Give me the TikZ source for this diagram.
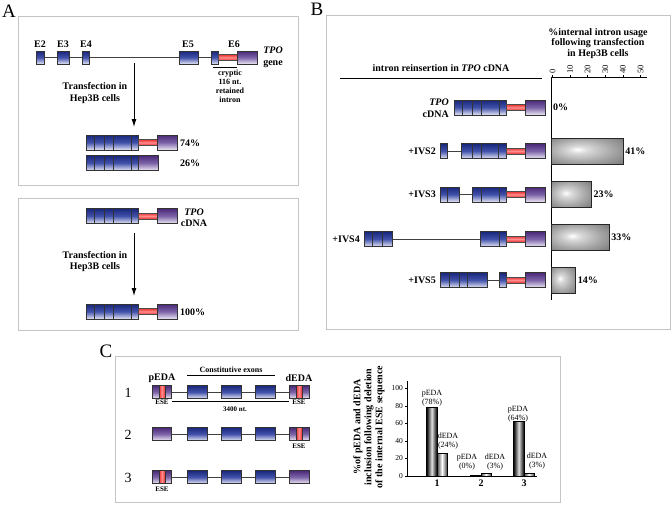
\documentclass[tikz,border=0pt]{standalone}
\usepackage{fontspec}
\setmainfont{Liberation Serif}
\usepackage{xcolor}
\usetikzlibrary{arrows.meta}

\definecolor{exonblue}{HTML}{18267A}
\definecolor{exonbluemid}{HTML}{4252AA}
\definecolor{exonbluelt}{HTML}{E4E6F5}
\definecolor{exonpurple}{HTML}{4A2878}
\definecolor{exonpurplemid}{HTML}{7C64A8}
\definecolor{exonpurplelt}{HTML}{EEE8F4}
\definecolor{intronred}{HTML}{E8302F}
\definecolor{intronpink}{HTML}{FF8C8C}
\definecolor{framegray}{HTML}{C4C4C4}

\pgfdeclareradialshading{barglow}{\pgfpoint{-7bp}{3bp}}{color(0bp)=(white); color(7bp)=(gray!30); color(22bp)=(gray!70); color(50bp)=(gray!65!black)}

% exon pieces: half height is \hh, set per row
\newcommand{\exbox}[4]{\draw[#4] (#1,#3-\hh) rectangle (#2,#3+\hh);}
\newcommand{\exdiv}[2]{\draw[divline] (#1,#2-\hh) -- (#1,#2+\hh);}
\newcommand{\redbar}[3]{\draw[redband] (#1,#3-3) rectangle (#2,#3+3);}
\newcommand{\tpoend}[2]{\redbar{#1}{#1+19}{#2}\exbox{#1+19}{#1+39}{#2}{expurple}}
\newcommand{\tpoblue}[2]{\exbox{#1}{#1+52}{#2}{exblue}\foreach \d in {8,18,27,45}{\exdiv{#1+\d}{#2}}}
\newcommand{\tpocdna}[2]{\tpoblue{#1}{#2}\tpoend{#1+52}{#2}}
\newcommand{\tpomrna}[2]{\tpoblue{#1}{#2}\exbox{#1+52}{#1+72}{#2}{expurple}}
\newcommand{\esebox}[5]{\exbox{#1}{#2}{#5}{expurple}\draw[eseband] (#3,#5-\hh) rectangle (#4,#5+\hh);}

\begin{document}
\begin{tikzpicture}[x=1pt,y=-1pt,
  frame/.style={draw=framegray, line width=0.7pt},
  exblue/.style={draw=black!80, line width=0.45pt, top color=exonblue, bottom color=exonbluelt, middle color=exonbluemid},
  expurple/.style={draw=black!80, line width=0.45pt, top color=exonpurple, bottom color=exonpurplelt, middle color=exonpurplemid},
  redband/.style={draw=black!70, line width=0.4pt, top color=intronred, bottom color=intronred, middle color=intronpink},
  eseband/.style={draw=black!80, line width=0.45pt, left color=intronred, right color=intronred, middle color=intronpink},
  divline/.style={draw=black!80, line width=0.45pt},
  intron/.style={draw=black!75, line width=0.7pt},
  flow/.style={-{Latex[length=8pt,width=5pt]}, line width=1pt},
  letter/.style={font=\fontsize{19}{19}\selectfont, inner sep=0pt},
  txt/.style={font=\fontsize{10}{11.5}\selectfont\bfseries, inner sep=0pt},
  pct/.style={font=\fontsize{10}{11.5}\selectfont\bfseries, inner sep=0pt, anchor=west},
  small/.style={font=\fontsize{8}{9}\selectfont\bfseries, inner sep=0pt},
  tiny/.style={font=\fontsize{7}{8}\selectfont\bfseries, inner sep=0pt},
  barlbl/.style={font=\fontsize{8}{8.5}\selectfont, inner sep=0pt, align=center},
  tick/.style={font=\fontsize{7.5}{8}\selectfont, inner sep=0pt},
  rownum/.style={font=\fontsize{14}{14}\selectfont, inner sep=0pt},
  barB/.style={shade, shading=barglow, draw=black!85, line width=0.8pt},
  barP/.style={draw=black, line width=0.6pt, left color=black, right color=black, middle color=gray!25},
  barD/.style={draw=black, line width=0.6pt, left color=gray!55!black, right color=gray!55!black, middle color=white}]
  \useasboundingbox (0,0) rectangle (672,506);

  % frames and panel letters
  \draw[frame] (18,16) rectangle (298,185);
  \draw[frame] (18,198) rectangle (298,330);
  \draw[frame] (326,15) rectangle (670,329);
  \draw[frame] (115,356) rectangle (560,502);
  \node[letter] (labA) at (9,11) {A};
  \node[letter] (labB) at (317,9) {B};
  \node[letter] (labC) at (106,351) {C};

  % ---- panel A, gene
  \def\hh{6.5}
  \draw[intron] (44,57.5) -- (211,57.5);
  \exbox{36}{44}{57.5}{exblue}
  \exbox{57}{69}{57.5}{exblue}
  \exbox{82}{89}{57.5}{exblue}
  \exbox{179}{198}{57.5}{exblue}
  \exbox{211}{218}{57.5}{exblue}
  \tpoend{218}{57.5}
  \node[txt] (e2) at (40,44) {E2};
  \node[txt] (e3) at (63,44) {E3};
  \node[txt] (e4) at (86,44) {E4};
  \node[txt] (e5) at (188,44) {E5};
  \node[txt] (e6) at (234,44) {E6};
  \node[txt, align=center] (tpogene) at (273,57.5) {\textit{TPO}\\gene};
  \draw[line width=1pt] (213,67) -- (237,67);
  \node[small, align=center] (cryptic) at (230,86) {cryptic\\116 nt.\\retained\\intron};
  \coordinate (arrA1s) at (134,63);
  \coordinate (arrA1e) at (134,127);
  \draw[flow] (arrA1s) -- (arrA1e);
  \node[txt, align=center] (trA1) at (95,93) {Transfection in\\Hep3B cells};
  \def\hh{7.5}
  \tpocdna{86}{142.5}
  \tpomrna{86}{163}
  \node[pct] (p74) at (180,143) {74\%};
  \node[pct] (p26) at (180,163.5) {26\%};

  % ---- panel A, cDNA
  \tpocdna{86}{216}
  \node[txt, align=center] (tpoA2) at (194,217.5) {\textit{TPO}\\cDNA};
  \coordinate (arrA2s) at (134,233);
  \coordinate (arrA2e) at (134,296);
  \draw[flow] (arrA2s) -- (arrA2e);
  \node[txt, align=center] (trA2) at (95,261.5) {Transfection in\\Hep3B cells};
  \tpocdna{86}{311.5}
  \node[pct] (p100) at (180,312) {100\%};

  % ---- panel B
  \node[txt, align=center, font=\fontsize{10}{10.5}\selectfont\bfseries] (hdrB) at (598,43.5) {\%internal intron usage\\following transfection\\in Hep3B cells};
  \node[txt] (hdrL) at (441,68) {intron reinsertion in \textit{TPO} cDNA};
  \draw[line width=0.9pt] (340,78) -- (542,78);
  \draw[line width=0.9pt] (551,77) -- (551,300);
  \draw[line width=0.8pt] (551,77) -- (647,77);
  \foreach \v in {0,10,...,50}{
    \draw[line width=0.5pt] (552.5+1.76*\v,77) -- (552.5+1.76*\v,75);
    \node[tick, rotate=90, anchor=west, font=\fontsize{8.5}{9}\selectfont] (tk\v) at (552.5+1.76*\v,74) {\v};
  }
  \foreach \yc/\v in {151/41, 194.5/23, 237.5/33, 280/14}{
    \draw[barB] (551,\yc-13) rectangle (551+1.76*\v,\yc+13);
    \node[pct] (pb\v) at (553+1.76*\v,\yc) {\v\%};
  }
  \node[pct] (pb0) at (553,107.5) {0\%};

  % cDNA
  \tpocdna{454}{107.5}
  \node[txt, align=right, anchor=east] (tpoB) at (449,108) {\textit{TPO}\\cDNA};
  % +IVS2
  \draw[intron] (447,151) -- (461,151);
  \exbox{440}{447}{151}{exblue}
  \exbox{461}{506}{151}{exblue}
  \foreach \d in {472,481,498}{\exdiv{\d}{151}}
  \tpoend{506}{151}
  \node[txt, anchor=east] (ivs2) at (436,151) {+IVS2};
  % +IVS3
  \draw[intron] (459,194.5) -- (472,194.5);
  \exbox{440}{459}{194.5}{exblue}
  \exdiv{447}{194.5}
  \exbox{472}{506}{194.5}{exblue}
  \foreach \d in {481,499}{\exdiv{\d}{194.5}}
  \tpoend{506}{194.5}
  \node[txt, anchor=east] (ivs3) at (436,194.5) {+IVS3};
  % +IVS4
  \draw[intron] (392,239) -- (480,239);
  \exbox{364}{392}{239}{exblue}
  \foreach \d in {372,382}{\exdiv{\d}{239}}
  \exbox{480}{506}{239}{exblue}
  \exdiv{499}{239}
  \tpoend{506}{239}
  \node[txt, anchor=east] (ivs4) at (360,239) {+IVS4};
  % +IVS5
  \draw[intron] (487,280) -- (499,280);
  \exbox{440}{487}{280}{exblue}
  \foreach \d in {449,459,467}{\exdiv{\d}{280}}
  \exbox{499}{506}{280}{exblue}
  \tpoend{506}{280}
  \node[txt, anchor=east] (ivs5) at (436,280) {+IVS5};

  % ---- panel C, constructs
  \def\hh{6.5}
  \node[small] (const) at (231,370) {Constitutive exons};
  \draw[line width=0.6pt] (187,375) -- (275,375);
  \node[txt] (pedaT) at (162,378) {pEDA};
  \node[txt] (dedaT) at (299,378) {dEDA};
  \foreach \yc/\n in {392/1, 434/2, 477/3}{
    \node[rownum] (row\n) at (128,\yc+1) {\n};
    \draw[intron] (171,\yc) -- (289,\yc);
    \foreach \xa in {187,221,255}{\exbox{\xa}{\xa+20}{\yc}{exblue}}
  }
  \esebox{152}{171}{159}{165}{392}
  \esebox{289}{309}{296}{302}{392}
  \exbox{152}{171}{434}{expurple}
  \esebox{289}{309}{296}{302}{434}
  \esebox{152}{171}{159}{165}{477}
  \exbox{289}{309}{477}{expurple}
  \node[tiny] (ese1a) at (162,402) {ESE};
  \node[tiny] (ese1b) at (299,402) {ESE};
  \node[tiny] (ese2) at (299,446) {ESE};
  \node[tiny] (ese3) at (162,489) {ESE};
  \draw[line width=0.6pt] (172,401) -- (289,401);
  \node[tiny] (nt) at (235,409) {3400 nt.};

  % ---- panel C, chart
  \node[txt, rotate=90, align=center, font=\fontsize{10}{11}\selectfont\bfseries] (ytitle) at (369,427) {\%of pEDA and dEDA\\inclusion following deletion\\of the internal ESE sequence};
  \draw[line width=0.6pt] (407,381) -- (407,476);
  \draw[line width=0.6pt] (407,476) -- (537,476);
  \foreach \v in {0,20,...,100}{
    \draw[line width=0.4pt] (405,476-0.875*\v) -- (407,476-0.875*\v);
    \node[tick, anchor=east] (yt\v) at (403,476-0.875*\v) {\v};
  }
  \foreach \b/\p/\d/\n in {437/78/26/1, 481/1/3/2, 524/62/3/3}{
    \draw[barP] (\b-10.5,476) rectangle (\b,476-0.875*\p);
    \draw[barD] (\b,476) rectangle (\b+10,476-0.875*\d);
    \node[txt] (cat\n) at (\b,483.5) {\n};
  }
  \node[barlbl] (lp1) at (432,398) {pEDA\\(78\%)};
  \node[barlbl] (ld1) at (448,441) {dEDA\\(24\%)};
  \node[barlbl] (lp2) at (467,462) {pEDA\\(0\%)};
  \node[barlbl] (ld2) at (495,462) {dEDA\\(3\%)};
  \node[barlbl] (lp3) at (518,414) {pEDA\\(64\%)};
  \node[barlbl] (ld3) at (537,461) {dEDA\\(3\%)};
\end{tikzpicture}
\end{document}
